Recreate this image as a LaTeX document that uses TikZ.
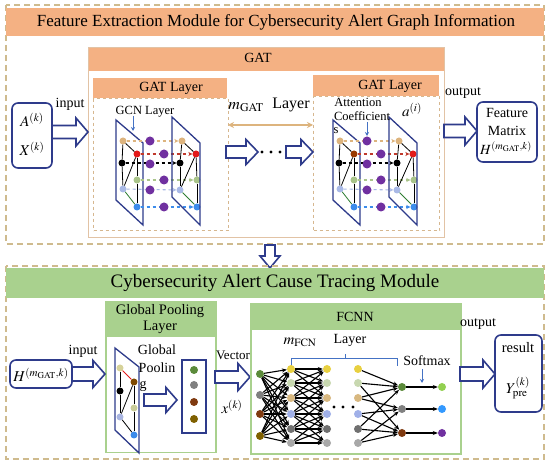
\documentclass[tikz,border=0pt]{standalone}
\usepackage{mathptmx}
\usepackage{fontspec}
\setmainfont{Liberation Serif}
\usetikzlibrary{arrows.meta}
\definecolor{orgbar}{HTML}{F4B183}
\definecolor{grnbar}{HTML}{A9D18E}
\definecolor{dashc}{HTML}{CFBB8E}
\definecolor{gatline}{HTML}{E2C3A5}
\definecolor{dashin}{HTML}{D6B78F}
\definecolor{navy}{HTML}{2E3B8B}
\definecolor{lbarrow}{HTML}{4472C4}
\definecolor{tanN}{HTML}{DDB47E}
\definecolor{redN}{HTML}{E31A1A}
\definecolor{redD}{HTML}{C0392B}
\definecolor{brnN}{HTML}{9A3A00}
\definecolor{lgrN}{HTML}{A9C48A}
\definecolor{lblN}{HTML}{A9B9E6}
\definecolor{bluN}{HTML}{3C8CEB}
\definecolor{purN}{HTML}{7030A0}
\definecolor{edgeG}{HTML}{2E7D32}
\definecolor{gA}{HTML}{D6D29A}
\definecolor{gB}{HTML}{7F4A00}
\definecolor{gD}{HTML}{C9CC98}
\definecolor{gE}{HTML}{A8B4E0}
\definecolor{vA}{HTML}{5B8A3A}
\definecolor{vB}{HTML}{808080}
\definecolor{vC}{HTML}{7F3A10}
\definecolor{vD}{HTML}{7F6000}
\definecolor{fA}{HTML}{E8D040}
\definecolor{fB}{HTML}{C8D8B0}
\definecolor{fC}{HTML}{D8B880}
\definecolor{fD}{HTML}{A0B0E8}
\definecolor{fE}{HTML}{707070}
\definecolor{fF}{HTML}{A8A8A8}
\definecolor{oA}{HTML}{92D050}
\definecolor{oB}{HTML}{3399FF}
\tikzset{
  gdot/.style={circle, inner sep=0, minimum size=7pt, fill=#1},
  pdot/.style={circle, inner sep=0, minimum size=9pt, fill=purN},
  fdot/.style={circle, inner sep=0, minimum size=8pt, fill=#1},
  barrow/.style={draw=navy, line width=1.6pt, fill=white, line join=miter},
  txt/.style={inner sep=0, font=\fontsize{#1}{#1}\selectfont},
  rbox/.style={draw=navy, line width=1.6pt, rounded corners=6pt, inner sep=0},
  nnarrow/.style={black, line width=1.1pt, -{Stealth[length=5pt,width=4pt]}},
  gedge/.style={black, line width=0.8pt},
  dasharr/.style={dashed, line width=1.1pt, #1, -{Stealth[length=4pt,width=4pt]}},
  smallblue/.style={lbarrow, line width=1pt, -{Stealth[length=4pt,width=4pt]}}
}
% right-pointing block arrow: x1 x2 y shafthalf headhalf headlen
\newcommand\barrowR[6]{\draw[barrow] (#1,#3-#4) -- (#2-#6,#3-#4) -- (#2-#6,#3-#5) -- (#2,#3) -- (#2-#6,#3+#5) -- (#2-#6,#3+#4) -- (#1,#3+#4) -- cycle;}
% downward block arrow: x y1 y2 shafthalf headhalf headlen
\newcommand\barrowD[6]{\draw[barrow] (#1-#4,#2) -- (#1-#4,#3-#6) -- (#1-#5,#3-#6) -- (#1,#3) -- (#1+#5,#3-#6) -- (#1+#4,#3-#6) -- (#1+#4,#2) -- cycle;}
% GAT graph: prefix, ox, oy, left red colour
\newcommand\gatgraph[4]{%
\begin{scope}[shift={(#2,#3)}]
  \draw[navy, line width=1.3pt] (0,0) -- (27,23) -- (27,105) -- (0,80) -- cycle;
  \foreach \n/\x/\y/\c in {1/7/21/tanN,2/21/34/#4,3/6/43/black,4/21/60/lgrN,5/7/69/lblN,6/21/87/bluN}
    \node[gdot=\c] (#1l\n) at (\x,\y) {};
  \foreach \n/\x/\y/\c in {1/66/21/tanN,2/80/34/redN,3/64/43/black,4/81/60/lgrN,5/64/70/lblN,6/81/87/bluN}
    \node[gdot=\c] (#1r\n) at (\x,\y) {};
  \foreach \n/\c in {1/tanN,2/redD,3/black,4/lgrN,5/lblN,6/bluN}
    \draw[dasharr=\c] (#1l\n) -- (#1r\n);
  \foreach \n/\x/\y in {1/34/21,2/48/34,3/34/44,4/48/60,5/34/70,6/48/87}
    \node[pdot] (#1p\n) at (\x,\y) {};
  \foreach \a/\b in {1/3,1/2,2/4,2/5,3/5,4/6}
    {\draw[gedge] (#1l\a) -- (#1l\b); \draw[gedge] (#1r\a) -- (#1r\b);}
  \draw[gedge, edgeG] (#1l5) -- (#1l6);
  \draw[gedge, edgeG] (#1r5) -- (#1r6);
  \draw[navy, line width=1.3pt] (56,-3) -- (84,23) -- (84,105) -- (56,77) -- cycle;
\end{scope}}
\begin{document}
\begin{tikzpicture}[x=1pt,y=-1pt]
\useasboundingbox (0,0) rectangle (550,462);
\fill[white] (0,0) rectangle (550,462);

% ================= top module =================
\draw[dashc, line width=1.8pt, dash pattern=on 6pt off 4pt] (6,5) rectangle (544,244);
\node[fill=orgbar, minimum width=538pt, minimum height=28pt, inner sep=0] (title1) at (275,22) {};
\node[txt=17] (title1t) at (276,22) {Feature Extraction Module for Cybersecurity Alert Graph Information};

% GAT outer box
\node[draw=gatline, line width=1.2pt, minimum width=356pt, minimum height=190pt, inner sep=0, anchor=north west] (gatbody) at (88,47) {};
\node[fill=orgbar, minimum width=355pt, minimum height=23pt, inner sep=0, anchor=north west] (gathead) at (88.5,47.5) {};
\node[txt=14] (gatt) at (258,58) {GAT};

% GAT layer 1
\node[draw=dashin, dashed, line width=1.2pt, minimum width=135pt, minimum height=132pt, inner sep=0, anchor=north west] (l1body) at (93,98) {};
\node[fill=orgbar, minimum width=134pt, minimum height=20pt, inner sep=0, anchor=north west] (l1head) at (93,78) {};
\node[txt=14] (l1t) at (171,88) {GAT Layer};

% GAT layer 2
\node[draw=dashin, dashed, line width=1.2pt, minimum width=126pt, minimum height=134pt, inner sep=0, anchor=north west] (l2body) at (313,96) {};
\node[fill=orgbar, minimum width=126pt, minimum height=21pt, inner sep=0, anchor=north west] (l2head) at (313,75) {};
\node[txt=14] (l2t) at (390,86) {GAT Layer};

% graphs
\gatgraph{A}{116}{120}{redN}
\gatgraph{B}{333}{120}{brnN}

\node[txt=12.5] (gcn) at (145,112) {GCN Layer};
\coordinate (gcnA) at (133,116);
\coordinate (gcnB) at (133,131);
\draw[smallblue] (gcnA) -- (gcnB);

\node[txt=12.5] (att1) at (358,102) {Attention};
\node[txt=12.5] (att2) at (362,116) {Coefficient};
\node[txt=12.5] (att3) at (336,131) {s};
\coordinate (attA) at (367,122);
\coordinate (attB) at (367,136);
\draw[smallblue] (attA) -- (attB);
\node[txt=15] (ai) at (412,110) {$a^{(i)}$};

% m_GAT layer
\coordinate (ma) at (228,125);
\coordinate (mb) at (313,125);
\draw[{Stealth[length=6pt,width=6pt]}-{Stealth[length=6pt,width=6pt]}, color=tanN, line width=1.5pt] (ma) -- (mb);
\node[txt=16] (mgat) at (246,107) {$m_{\mathrm{GAT}}$};
\node[txt=16] (mlayer) at (291,105) {Layer};

\barrowR{226}{258}{152}{6}{12.5}{12}
\foreach \x in {262,271,280} \fill[black] (\x,152) circle (1.6pt);
\barrowR{286}{313}{152}{6}{12.5}{12}

% input
\node[rbox, minimum width=40pt, minimum height=65pt] (inbox) at (32,135.5) {};
\node[txt=15] (ak) at (32,120) {$A^{(k)}$};
\node[txt=15] (xk) at (32,149) {$X^{(k)}$};
\node[txt=14] (inp1) at (70,104) {input};
\barrowR{52}{88}{132}{6.5}{14}{12}

% output
\node[txt=14] (outp1) at (463,93) {output};
\barrowR{444}{477}{131}{6.5}{14}{12}
\node[rbox, minimum width=60pt, minimum height=60pt] (fmbox) at (507,132) {};
\node[txt=14] (fm1) at (507,113) {Feature};
\node[txt=14] (fm2) at (507,131) {Matrix};
\node[txt=14] (fm3) at (506,148) {$H^{(m_{\mathrm{GAT}},k)}$};

% down arrow
\barrowD{270}{245}{268}{5}{10}{12}

% ================= bottom module =================
\draw[dashc, line width=1.8pt, dash pattern=on 6pt off 4pt] (6,266) rectangle (544,459);
\node[fill=grnbar, minimum width=538pt, minimum height=30pt, inner sep=0] (title2) at (275,283) {};
\node[txt=19] (title2t) at (275,283) {Cybersecurity Alert Cause Tracing Module};

% Global pooling layer
\node[draw=grnbar, line width=1.5pt, minimum width=110pt, minimum height=151pt, inner sep=0, anchor=north west] (gpbody) at (105,301) {};
\node[fill=grnbar, minimum width=110pt, minimum height=36pt, inner sep=0, anchor=north west] (gphead) at (105,301) {};
\node[txt=14.5, align=center] (gpt) at (160,319) {Global Pooling\\[1pt]Layer};

\node[rbox, minimum width=62pt, minimum height=28pt] (hbox) at (41,374) {};
\node[txt=15] (hboxt) at (41,375) {$H^{(m_{\mathrm{GAT}},k)}$};
\node[txt=14] (inp2) at (83,351) {input};
\barrowR{72}{105}{374}{7}{13.5}{12}

\draw[navy, line width=1.3pt] (115,348) -- (139,367) -- (139,453) -- (115,430) -- cycle;
\node[gdot=gA] (q1) at (120,368) {};
\node[gdot=gB] (q2) at (134,382) {};
\node[gdot=black] (q3) at (120,391) {};
\node[gdot=gD] (q4) at (134,408) {};
\node[gdot=gE] (q5) at (120,417) {};
\node[gdot=bluN] (q6) at (134,435) {};
\draw[gedge, redN] (q1) -- (q2);
\draw[gedge] (q1) -- (q3);
\draw[gedge] (q2) -- (q4);
\draw[gedge] (q2) -- (q5);
\draw[gedge] (q3) -- (q5);
\draw[gedge] (q4) -- (q6);
\draw[gedge] (q5) -- (q6);
\node[txt=14] (gp1) at (157,350) {Global};
\node[txt=14] (gp2) at (157,368) {Poolin};
\node[txt=14] (gp3) at (143,386) {g};
\barrowR{144}{177}{400}{6}{12.5}{11}

\node[draw=navy, line width=1.4pt, minimum width=24pt, minimum height=73pt, inner sep=0] (vbox) at (194,396.5) {};
\node[fdot=vA] (v1) at (194,370) {};
\node[fdot=vB] (v2) at (194,385) {};
\node[fdot=vC] (v3) at (194,402) {};
\node[fdot=vD] (v4) at (194,419) {};

\node[txt=13] (vect) at (233,355) {Vector};
\barrowR{215}{250}{377}{6}{13.5}{12}
\node[txt=15] (xvec) at (232,407) {$x^{(k)}$};

% FCNN
\node[draw=grnbar, line width=2pt, minimum width=210pt, minimum height=150pt, inner sep=0, anchor=north west] (fcbody) at (250,303) {};
\node[fill=grnbar, minimum width=210pt, minimum height=27pt, inner sep=0, anchor=north west] (fchead) at (250,303) {};
\node[txt=14] (fct) at (355,317) {FCNN};

\node[txt=15] (mfcn) at (300,342) {$m_{\mathrm{FCN}}$};
\node[txt=14] (flayer) at (350,340) {Layer};
\coordinate (brA) at (291,366);
\coordinate (brB) at (397,366);
\coordinate (brC) at (345,359);
\coordinate (brD) at (345,354);
\draw[lbarrow, line width=1pt] (brA) -- (291,359) -- (397,359) -- (brB);
\draw[lbarrow, line width=1pt] (brC) -- (brD);

\foreach \n/\y/\c in {1/374/vA,2/395/vB,3/414/vC,4/436/vD}
  \node[fdot=\c] (in\n) at (260,\y) {};
\foreach \n/\y/\c in {1/369/fA,2/383/fB,3/398/fC,4/414/fD,5/429/fE,6/443/fF}
  {\node[fdot=\c] (a\n) at (291,\y) {};
   \node[fdot=\c] (b\n) at (327,\y) {};
   \node[fdot=\c] (m\n) at (358,\y) {};}
\foreach \n/\y/\c in {1/387/vA,2/409/vB,3/433/vC}
  \node[fdot=\c] (s\n) at (402,\y) {};
\foreach \n/\y/\c in {1/387/oA,2/409/oB,3/433/purN}
  \node[fdot=\c] (o\n) at (442,\y) {};

\foreach \i in {1,...,4}
  \foreach \j in {1,...,6}
    \draw[nnarrow] (in\i) -- (a\j);
\foreach \i in {1,...,6}
  \foreach \j in {1,...,6}
    {\pgfmathtruncatemacro\dd{abs(\i-\j)}
     \ifnum\dd<3 \draw[nnarrow] (a\i) -- (b\j);\fi}
\foreach \i/\j in {1/1,2/1,2/3,3/1,3/2,4/2,4/3,5/1,5/3,6/2,6/3}
  \draw[nnarrow] (m\i) -- (s\j);
\foreach \i in {1,2,3}
  \draw[nnarrow] (s\i) -- (o\i);
\foreach \x in {334,343,353} \fill[black] (\x,407) circle (1.6pt);

\node[txt=14] (smax) at (427,361) {Softmax};
\coordinate (smA) at (422,369);
\coordinate (smB) at (422,383);
\draw[smallblue] (smA) -- (smB);

% output bottom
\node[txt=14] (outp2) at (478,324) {output};
\barrowR{460}{495}{374}{7}{14}{12}
\node[rbox, minimum width=47pt, minimum height=77pt] (resbox) at (518.5,373.5) {};
\node[txt=14.5] (rest) at (518,348) {result};
\node[txt=15] (yt) at (518,388) {$Y^{(k)}_{\mathrm{pre}}$};
\end{tikzpicture}
\end{document}
